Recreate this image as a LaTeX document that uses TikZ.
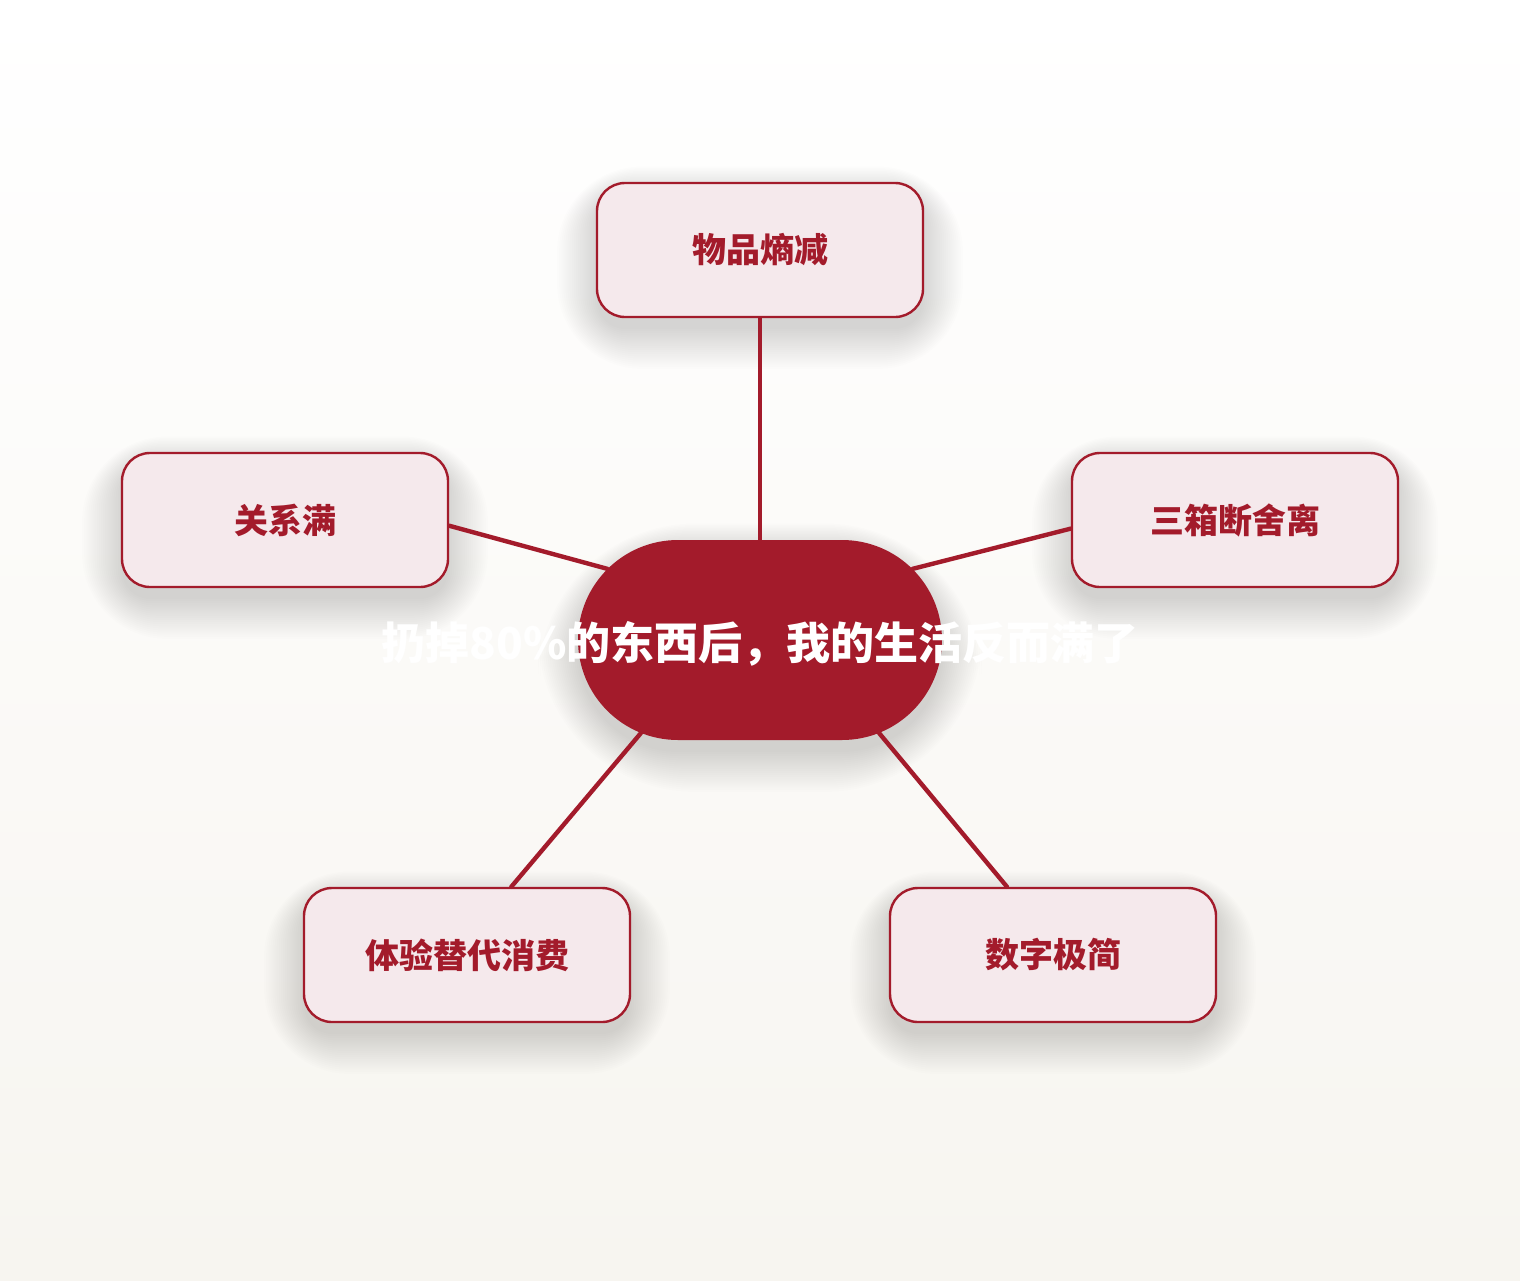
\documentclass[tikz,border=0pt]{standalone}
\usepackage{fontspec}
\setmainfont{Noto Sans CJK SC}
\usetikzlibrary{shapes.misc}

\definecolor{wine}{RGB}{163,27,43}
\definecolor{blush}{RGB}{245,233,236}
\definecolor{paper}{RGB}{247,245,240}

\begin{document}
\begin{tikzpicture}[x=1pt, y=-1pt,
  leaf/.style={draw=wine, line width=2.4pt, fill=blush, rounded corners=28pt,
    minimum width=326pt, minimum height=134pt, text=wine, font=\bfseries\fontsize{34}{36}\selectfont},
  hubshape/.style={rounded rectangle, fill=wine, minimum width=364pt, minimum height=200pt, inner sep=0pt},
  link/.style={wine, line width=4.4pt, line cap=round}]

% background
\shade[top color=white, bottom color=paper] (0,0) rectangle (1520,1280);
\useasboundingbox (0,0) rectangle (1520,1280);

% soft shadows
\foreach \cx/\cy in {760/250, 285/520, 1235/520, 467/955, 1053/955} {
  \foreach \r [evaluate=\r as \rc using 28+\r] in {0,3,...,57} {
    \fill[black, opacity=0.0065, rounded corners=\rc pt]
      (\cx-163-\r*0.7, \cy-67+12-\r*0.5) rectangle (\cx+163+\r*0.7, \cy+67+12+\r*0.7);
  }
}
\foreach \r [evaluate=\r as \rc using 100+\r] in {0,3,...,57} {
  \fill[black, opacity=0.0065, rounded corners=\rc pt]
    (760-182-\r*0.7, 640-100+12-\r*0.5) rectangle (760+182+\r*0.7, 640+100+12+\r*0.7);
}

\node[hubshape] (hub) at (760,640) {};
\node[text=white, font=\bfseries\fontsize{44}{46}\selectfont] (hubtxt) at (760,644) {扔掉80\%的东西后，我的生活反而满了};

\node[leaf] (top) at (760,250) {\raisebox{-3pt}{物品熵减}};
\node[leaf] (lft) at (285,520) {\raisebox{-3pt}{关系满}};
\node[leaf] (rgt) at (1235,520) {\raisebox{-3pt}{三箱断舍离}};
\node[leaf] (bl) at (467,955) {\raisebox{-3pt}{体验替代消费}};
\node[leaf] (br) at (1053,955) {\raisebox{-3pt}{数字极简}};

\draw[link] (hub.north) -- (top.south);
\draw[link] (hub.155) -- (lft.-2.5);
\draw[link] (hub.25) -- (rgt.183);
\draw[link] (hub.218) -- (bl.57);
\draw[link] (hub.322) -- (br.124);

\end{tikzpicture}
\end{document}
